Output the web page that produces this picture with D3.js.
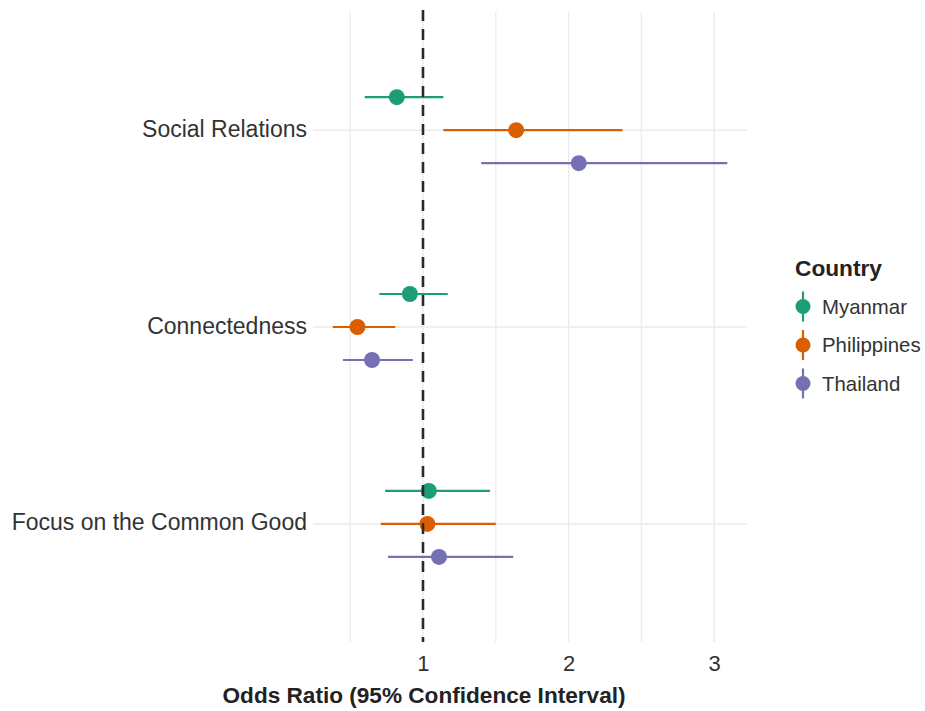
<!DOCTYPE html>
<html>
<head>
<meta charset="utf-8">
<script src="https://cdn.jsdelivr.net/npm/d3@7/dist/d3.min.js"></script>
<style>
  html, body { margin: 0; padding: 0; background: #fff; }
  svg { display: block; }
  text { font-family: "Liberation Sans", Arial, sans-serif; }
</style>
</head>
<body>
<svg id="chart" width="925" height="711"></svg>
<script>
const categories = ["Social Relations", "Connectedness", "Focus on the Common Good"];
const countries = ["Myanmar", "Philippines", "Thailand"];
const colors = ["#1B9E77", "#D95F02", "#7570B3"];

// Odds ratios and 95% CI per country, in category order
const myanmarOR   = [0.82, 0.91, 1.04];
const myanmarLow  = [0.60, 0.70, 0.74];
const myanmarHigh = [1.14, 1.17, 1.46];

const philippinesOR   = [1.64, 0.55, 1.03];
const philippinesLow  = [1.14, 0.38, 0.71];
const philippinesHigh = [2.37, 0.81, 1.50];

const thailandOR   = [2.07, 0.65, 1.11];
const thailandLow  = [1.40, 0.45, 0.76];
const thailandHigh = [3.09, 0.93, 1.62];

const xTicks = [1, 2, 3];
const xMinor = [0.5, 1.5, 2.5];
const refValue = 1;

const series = [
  { country: countries[0], or: myanmarOR, low: myanmarLow, high: myanmarHigh },
  { country: countries[1], or: philippinesOR, low: philippinesLow, high: philippinesHigh },
  { country: countries[2], or: thailandOR, low: thailandLow, high: thailandHigh }
];
const rows = [];
series.forEach(s => categories.forEach((c, i) => rows.push({
  country: s.country, category: c, or: s.or[i], low: s.low[i], high: s.high[i]
})));

const svg = d3.select("#chart");
const panel = { left: 313, right: 747, top: 12, bottom: 642 };

const lo = d3.min(rows, d => d.low), hi = d3.max(rows, d => d.high);
const pad = (hi - lo) * 0.05;
const x = d3.scaleLinear().domain([lo - pad, hi + pad]).range([panel.left, panel.right]);
const y = d3.scalePoint().domain(categories).range([panel.top, panel.bottom]).padding(0.6);
const dodge = d3.scalePoint().domain(countries).range([-33, 33]);
const color = d3.scaleOrdinal().domain(countries).range(colors);

const grid = svg.append("g");
grid.selectAll(".minor").data(xMinor).join("line")
  .attr("x1", d => x(d)).attr("x2", d => x(d))
  .attr("y1", panel.top).attr("y2", panel.bottom)
  .attr("stroke", "#ececec").attr("stroke-width", 1.3);
grid.selectAll(".major").data(xTicks).join("line")
  .attr("x1", d => x(d)).attr("x2", d => x(d))
  .attr("y1", panel.top).attr("y2", panel.bottom)
  .attr("stroke", "#ebebeb").attr("stroke-width", 1.5);
grid.selectAll(".hgrid").data(categories).join("line")
  .attr("x1", panel.left).attr("x2", panel.right)
  .attr("y1", d => y(d)).attr("y2", d => y(d))
  .attr("stroke", "#ebebeb").attr("stroke-width", 1.5);

// x axis
const xAxis = d3.axisBottom(x).tickValues(xTicks).tickFormat(d3.format("d")).tickSize(0).tickPadding(0);
const gx = svg.append("g").attr("transform", `translate(0,${panel.bottom})`).call(xAxis);
gx.select(".domain").remove();
gx.selectAll("text").attr("font-size", 22).attr("fill", "#333")
  .attr("dy", null).attr("y", 29).attr("font-family", "Liberation Sans, Arial, sans-serif");

// y axis
const yAxis = d3.axisLeft(y).tickSize(0).tickPadding(0);
const gy = svg.append("g").attr("transform", `translate(307,0)`).call(yAxis);
gy.select(".domain").remove();
gy.selectAll("text").attr("font-size", 23).attr("fill", "#333")
  .attr("dy", null).attr("y", 6).attr("x", 0).attr("text-anchor", "end")
  .attr("font-family", "Liberation Sans, Arial, sans-serif");

// error bars and points
const marks = svg.append("g");
marks.selectAll(".err").data(rows).join("line")
  .attr("x1", d => x(d.low)).attr("x2", d => x(d.high))
  .attr("y1", d => y(d.category) + dodge(d.country))
  .attr("y2", d => y(d.category) + dodge(d.country))
  .attr("stroke", d => color(d.country)).attr("stroke-width", 2.2);
marks.selectAll(".pt").data(rows).join("circle")
  .attr("cx", d => x(d.or))
  .attr("cy", d => y(d.category) + dodge(d.country))
  .attr("r", 8).attr("fill", d => color(d.country));

// reference line
svg.append("line")
  .attr("x1", x(refValue)).attr("x2", x(refValue))
  .attr("y1", 10).attr("y2", panel.bottom)
  .attr("stroke", "#2a2a2a").attr("stroke-width", 2.6)
  .attr("stroke-dasharray", "11,8");

// x title
svg.append("text")
  .attr("x", 424).attr("y", 703)
  .attr("text-anchor", "middle").attr("font-size", 22.6).attr("font-weight", "bold")
  .attr("fill", "#222").text("Odds Ratio (95% Confidence Interval)");

// legend
const lg = svg.append("g");
lg.append("text").attr("x", 795).attr("y", 276)
  .attr("font-size", 22.7).attr("font-weight", "bold").attr("fill", "#222").text("Country");
const ly = d3.scalePoint().domain(countries).range([306.5, 383.5]);
const items = lg.selectAll(".item").data(countries).join("g")
  .attr("transform", d => `translate(803,${ly(d)})`);
items.append("line").attr("x1", 0).attr("x2", 0).attr("y1", -15).attr("y2", 15)
  .attr("stroke", d => color(d)).attr("stroke-width", 2.2);
items.append("circle").attr("r", 7.5).attr("fill", d => color(d));
items.append("text").attr("x", 19).attr("y", 7)
  .attr("font-size", 20.4).attr("fill", "#333").text(d => d);
</script>
</body>
</html>
